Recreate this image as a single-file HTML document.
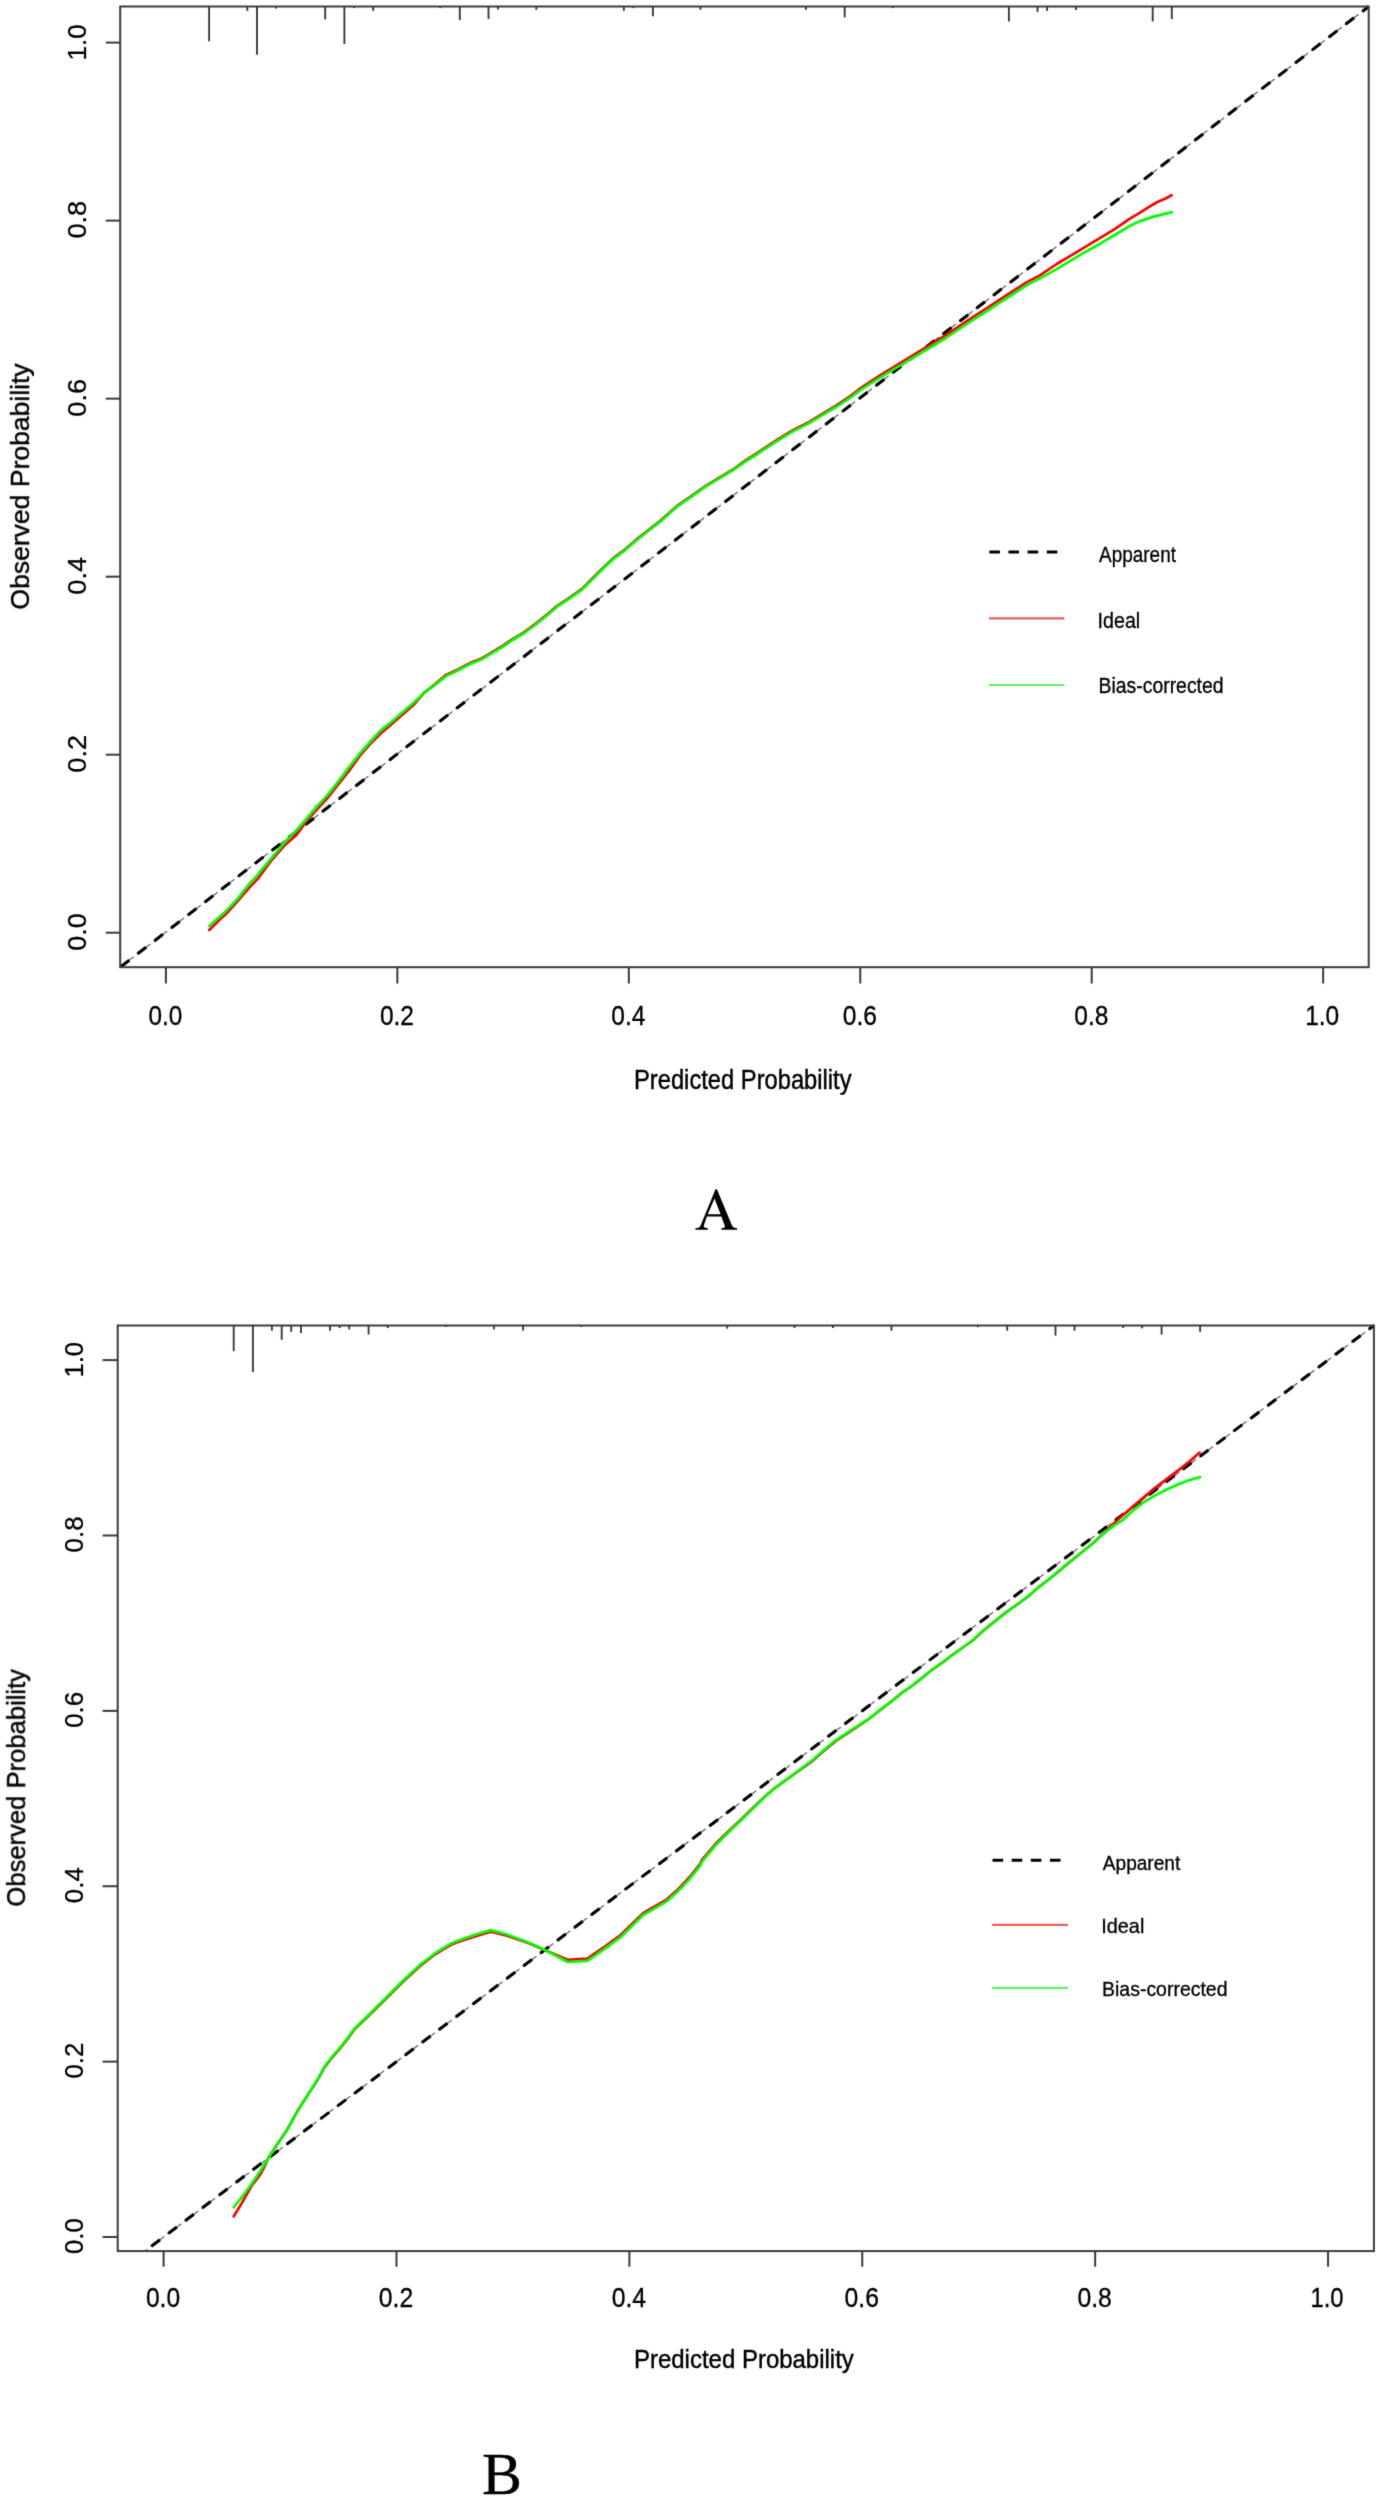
<!DOCTYPE html>
<html><head><meta charset="utf-8"><title>Calibration curves</title>
<style>html,body{margin:0;padding:0;background:#fff;}svg{display:block;}</style>
</head><body>
<svg width="1381" height="2500" viewBox="0 0 1381 2500">
<defs><filter id="soft" x="0" y="0" width="1381" height="2500" filterUnits="userSpaceOnUse" color-interpolation-filters="sRGB"><feConvolveMatrix order="3" kernelMatrix="0.01134 0.08382 0.01134 0.08382 0.61935 0.08382 0.01134 0.08382 0.01134" edgeMode="duplicate" preserveAlpha="false"/></filter></defs>
<rect x="0" y="0" width="1381" height="2500" fill="#fff"/>
<g filter="url(#soft)">
<line x1="209.1" y1="6.5" x2="209.1" y2="41.3" stroke="#3a3a3a" stroke-width="1.9"/>
<line x1="247.3" y1="6.5" x2="247.3" y2="10.9" stroke="#3a3a3a" stroke-width="1.9"/>
<line x1="257.0" y1="6.5" x2="257.0" y2="54.8" stroke="#3a3a3a" stroke-width="1.9"/>
<line x1="276.0" y1="6.5" x2="276.0" y2="8.5" stroke="#3a3a3a" stroke-width="1.9"/>
<line x1="325.2" y1="6.5" x2="325.2" y2="19.3" stroke="#3a3a3a" stroke-width="1.9"/>
<line x1="344.4" y1="6.5" x2="344.4" y2="44.0" stroke="#3a3a3a" stroke-width="1.9"/>
<line x1="354.1" y1="6.5" x2="354.1" y2="8.1" stroke="#3a3a3a" stroke-width="1.9"/>
<line x1="373.2" y1="6.5" x2="373.2" y2="10.9" stroke="#3a3a3a" stroke-width="1.9"/>
<line x1="440.4" y1="6.5" x2="440.4" y2="8.1" stroke="#3a3a3a" stroke-width="1.9"/>
<line x1="459.8" y1="6.5" x2="459.8" y2="20.1" stroke="#3a3a3a" stroke-width="1.9"/>
<line x1="488.5" y1="6.5" x2="488.5" y2="19.0" stroke="#3a3a3a" stroke-width="1.9"/>
<line x1="498.0" y1="6.5" x2="498.0" y2="9.6" stroke="#3a3a3a" stroke-width="1.9"/>
<line x1="536.3" y1="6.5" x2="536.3" y2="9.8" stroke="#3a3a3a" stroke-width="1.9"/>
<line x1="623.8" y1="6.5" x2="623.8" y2="10.9" stroke="#3a3a3a" stroke-width="1.9"/>
<line x1="633.4" y1="6.5" x2="633.4" y2="8.1" stroke="#3a3a3a" stroke-width="1.9"/>
<line x1="652.9" y1="6.5" x2="652.9" y2="16.3" stroke="#3a3a3a" stroke-width="1.9"/>
<line x1="700.4" y1="6.5" x2="700.4" y2="9.8" stroke="#3a3a3a" stroke-width="1.9"/>
<line x1="805.9" y1="6.5" x2="805.9" y2="9.8" stroke="#3a3a3a" stroke-width="1.9"/>
<line x1="844.7" y1="6.5" x2="844.7" y2="17.4" stroke="#3a3a3a" stroke-width="1.9"/>
<line x1="892.6" y1="6.5" x2="892.6" y2="8.1" stroke="#3a3a3a" stroke-width="1.9"/>
<line x1="1008.9" y1="6.5" x2="1008.9" y2="21.5" stroke="#3a3a3a" stroke-width="1.9"/>
<line x1="1037.5" y1="6.5" x2="1037.5" y2="11.9" stroke="#3a3a3a" stroke-width="1.9"/>
<line x1="1047.1" y1="6.5" x2="1047.1" y2="10.9" stroke="#3a3a3a" stroke-width="1.9"/>
<line x1="1075.9" y1="6.5" x2="1075.9" y2="10.0" stroke="#3a3a3a" stroke-width="1.9"/>
<line x1="1152.7" y1="6.5" x2="1152.7" y2="21.5" stroke="#3a3a3a" stroke-width="1.9"/>
<line x1="1171.8" y1="6.5" x2="1171.8" y2="19.0" stroke="#3a3a3a" stroke-width="1.9"/>
<line x1="120.20" y1="967.20" x2="1368.70" y2="6.50" stroke="#6a6a6a" stroke-width="1.3" stroke-dasharray="17.3 3.87" stroke-dashoffset="0.27"/>
<line x1="120.20" y1="967.20" x2="1368.70" y2="6.50" stroke="#000" stroke-width="3.1" stroke-dasharray="10.8 10.37" stroke-dashoffset="-0.73"/>
<path d="M209.3 930.0 L219.5 919.8 L226.7 913.3 L237.6 901.0 L248.4 888.7 L258.6 877.8 L270.2 861.9 L284.7 845.2 L296.4 835.0 L305.9 821.9 L316.7 809.6 L327.6 798.0 L338.4 784.2 L349.3 770.5 L360.2 755.3 L370.0 744.1 L380.9 733.3 L391.7 723.9 L402.6 714.4 L413.4 705.0 L424.3 692.5 L435.2 684.1 L446.0 674.9 L456.9 669.9 L470.0 663.1 L480.9 658.8 L491.7 652.3 L502.6 645.8 L513.4 638.6 L524.3 632.1 L535.2 624.1 L546.0 615.4 L556.9 606.0 L570.0 597.3 L581.7 589.1 L592.6 578.2 L603.4 567.4 L614.3 557.3 L625.2 549.3 L636.0 539.9 L646.9 531.2 L660.0 521.1 L676.7 506.2 L691.2 496.1 L705.7 485.9 L720.2 477.1 L734.7 468.3 L745.5 460.4 L755.0 454.5 L764.5 448.2 L779.0 438.7 L793.4 429.9 L807.9 422.6 L822.4 413.9 L836.9 405.1 L850.0 396.3 L861.7 387.4 L881.2 374.7 L902.9 361.5 L917.4 352.6 L931.9 343.7 L945.0 335.6 L965.3 322.1 L983.4 310.4 L997.9 300.9 L1012.4 291.5 L1026.9 282.1 L1039.5 275.6 L1056.7 264.0 L1071.2 255.3 L1085.7 246.6 L1100.2 237.9 L1114.7 229.2 L1129.1 219.1 L1140.0 212.7 L1148.7 207.2 L1157.4 202.0 L1166.1 198.2 L1171.6 195.2" fill="none" stroke="#ff0000" stroke-width="2.7" stroke-linejoin="round" stroke-linecap="round" />
<path d="M209.3 925.9 L219.5 916.9 L226.7 910.4 L237.6 898.8 L248.4 885.0 L257.1 875.6 L262.9 868.4 L273.8 855.3 L284.7 842.3 L295.0 832.0 L305.9 819.7 L316.7 806.7 L327.6 795.1 L338.4 781.3 L349.3 766.9 L360.2 753.1 L370.0 742.0 L380.9 730.4 L391.7 721.7 L402.6 712.3 L413.4 702.9 L424.3 692.7 L435.2 684.8 L446.0 676.1 L456.9 671.0 L470.0 664.1 L480.9 659.8 L491.7 653.3 L502.6 646.8 L513.4 639.5 L524.3 633.0 L535.2 625.0 L546.0 616.3 L556.9 606.9 L570.0 598.2 L581.7 590.0 L592.6 579.1 L603.4 568.2 L614.3 558.1 L625.2 550.1 L636.0 540.7 L646.9 532.0 L660.0 521.9 L676.7 506.9 L691.2 496.8 L705.7 486.6 L720.2 477.9 L734.7 469.2 L745.5 461.3 L755.0 455.5 L764.5 449.2 L779.0 439.8 L793.4 431.1 L807.9 423.9 L822.4 415.2 L836.9 406.5 L850.0 397.8 L861.7 389.2 L881.2 376.9 L902.9 363.9 L917.4 355.2 L931.9 346.5 L945.0 338.5 L965.3 325.0 L983.4 313.3 L997.9 303.9 L1012.4 294.5 L1026.9 285.1 L1039.5 278.6 L1056.7 269.1 L1071.2 260.4 L1085.7 251.7 L1100.2 243.7 L1114.7 235.0 L1129.1 226.3 L1140.0 221.1 L1154.5 216.4 L1171.9 212.1" fill="none" stroke="#00ff00" stroke-width="2.7" stroke-linejoin="round" stroke-linecap="round" />
<rect x="120.20" y="6.50" width="1248.50" height="960.70" fill="none" stroke="#3c3c3c" stroke-width="2"/>
<line x1="165.90" y1="967.20" x2="165.90" y2="983.50" stroke="#3a3a3a" stroke-width="2"/>
<line x1="397.35" y1="967.20" x2="397.35" y2="983.50" stroke="#3a3a3a" stroke-width="2"/>
<line x1="628.80" y1="967.20" x2="628.80" y2="983.50" stroke="#3a3a3a" stroke-width="2"/>
<line x1="860.25" y1="967.20" x2="860.25" y2="983.50" stroke="#3a3a3a" stroke-width="2"/>
<line x1="1091.70" y1="967.20" x2="1091.70" y2="983.50" stroke="#3a3a3a" stroke-width="2"/>
<line x1="1323.15" y1="967.20" x2="1323.15" y2="983.50" stroke="#3a3a3a" stroke-width="2"/>
<line x1="105.80" y1="932.70" x2="120.20" y2="932.70" stroke="#3a3a3a" stroke-width="2"/>
<line x1="105.80" y1="754.68" x2="120.20" y2="754.68" stroke="#3a3a3a" stroke-width="2"/>
<line x1="105.80" y1="576.66" x2="120.20" y2="576.66" stroke="#3a3a3a" stroke-width="2"/>
<line x1="105.80" y1="398.64" x2="120.20" y2="398.64" stroke="#3a3a3a" stroke-width="2"/>
<line x1="105.80" y1="220.62" x2="120.20" y2="220.62" stroke="#3a3a3a" stroke-width="2"/>
<line x1="105.80" y1="42.60" x2="120.20" y2="42.60" stroke="#3a3a3a" stroke-width="2"/>
<text transform="matrix(0.24351 0 0 0.28028 148.48 1024.92)" style="font-family:&quot;Liberation Sans&quot;,sans-serif" font-size="100" fill="#000" stroke="#000" stroke-width="1.15">0.0</text>
<text transform="matrix(0.24538 0 0 0.28028 379.92 1024.92)" style="font-family:&quot;Liberation Sans&quot;,sans-serif" font-size="100" fill="#000" stroke="#000" stroke-width="1.14">0.2</text>
<text transform="matrix(0.24538 0 0 0.28028 611.37 1024.92)" style="font-family:&quot;Liberation Sans&quot;,sans-serif" font-size="100" fill="#000" stroke="#000" stroke-width="1.14">0.4</text>
<text transform="matrix(0.24538 0 0 0.28028 842.82 1024.92)" style="font-family:&quot;Liberation Sans&quot;,sans-serif" font-size="100" fill="#000" stroke="#000" stroke-width="1.14">0.6</text>
<text transform="matrix(0.24538 0 0 0.28028 1074.27 1024.92)" style="font-family:&quot;Liberation Sans&quot;,sans-serif" font-size="100" fill="#000" stroke="#000" stroke-width="1.14">0.8</text>
<text transform="matrix(0.24488 0 0 0.28028 1305.14 1024.92)" style="font-family:&quot;Liberation Sans&quot;,sans-serif" font-size="100" fill="#000" stroke="#000" stroke-width="1.15">1.0</text>
<text transform="matrix(0 -0.27023 0.25634 0 86.04 950.68)" style="font-family:&quot;Liberation Sans&quot;,sans-serif" font-size="100" fill="#000" stroke="#000" stroke-width="1.14">0.0</text>
<text transform="matrix(0 -0.27231 0.25634 0 86.04 772.67)" style="font-family:&quot;Liberation Sans&quot;,sans-serif" font-size="100" fill="#000" stroke="#000" stroke-width="1.14">0.2</text>
<text transform="matrix(0 -0.27231 0.25634 0 86.04 594.65)" style="font-family:&quot;Liberation Sans&quot;,sans-serif" font-size="100" fill="#000" stroke="#000" stroke-width="1.14">0.4</text>
<text transform="matrix(0 -0.27231 0.25634 0 86.04 416.63)" style="font-family:&quot;Liberation Sans&quot;,sans-serif" font-size="100" fill="#000" stroke="#000" stroke-width="1.14">0.6</text>
<text transform="matrix(0 -0.27231 0.25634 0 86.04 238.61)" style="font-family:&quot;Liberation Sans&quot;,sans-serif" font-size="100" fill="#000" stroke="#000" stroke-width="1.14">0.8</text>
<text transform="matrix(0 -0.25984 0.25634 0 86.04 60.38)" style="font-family:&quot;Liberation Sans&quot;,sans-serif" font-size="100" fill="#000" stroke="#000" stroke-width="1.16">1.0</text>
<text transform="matrix(0.23740 0 0 0.26915 634.00 1088.85)" style="font-family:&quot;Liberation Sans&quot;,sans-serif" font-size="100" fill="#000" stroke="#000" stroke-width="1.58">Predicted Probability</text>
<text transform="matrix(0 -0.26555 0.24894 0 28.67 609.63)" style="font-family:&quot;Liberation Sans&quot;,sans-serif" font-size="100" fill="#000" stroke="#000" stroke-width="1.56">Observed Probability</text>
<line x1="989.3" y1="552.1" x2="1057.4" y2="552.1" stroke="#000" stroke-width="3" stroke-dasharray="10.6 8.55"/>
<line x1="989.0" y1="618.4" x2="1064.4" y2="618.4" stroke="#f05c5c" stroke-width="2.2"/>
<line x1="989.0" y1="685.0" x2="1064.4" y2="685.0" stroke="#62f062" stroke-width="2.2"/>
<text transform="matrix(0.18951 0 0 0.21889 1099.05 562.00)" style="font-family:&quot;Liberation Sans&quot;,sans-serif" font-size="100" fill="#000" stroke="#000" stroke-width="1.47">Apparent</text>
<text transform="matrix(0.19701 0 0 0.21622 1097.53 628.08)" style="font-family:&quot;Liberation Sans&quot;,sans-serif" font-size="100" fill="#000" stroke="#000" stroke-width="1.45">Ideal</text>
<text transform="matrix(0.19397 0 0 0.21892 1098.55 693.48)" style="font-family:&quot;Liberation Sans&quot;,sans-serif" font-size="100" fill="#000" stroke="#000" stroke-width="1.46">Bias-corrected</text>
<path fill="#000" fill-rule="evenodd" d="M695.4 1229.7 L707.8 1229.7 L707.8 1228.3 L704.6 1227.5 L703.6 1226.3 L706.9 1216.6 L721.4 1216.6 L725.0 1226.4 L724.0 1227.8 L721.4 1228.3 L721.4 1229.7 L737.1 1229.7 L737.1 1228.3 L734.4 1227.8 L732.3 1226.2 L716.9 1189.2 L715.5 1189.2 L700.4 1226.0 L698.6 1227.8 L695.4 1228.3 Z M707.8 1214.2 L720.6 1214.2 L714.5 1198.4 Z"/>
<line x1="233.7" y1="1325.5" x2="233.7" y2="1351.2" stroke="#3a3a3a" stroke-width="1.9"/>
<line x1="252.9" y1="1325.5" x2="252.9" y2="1372.0" stroke="#3a3a3a" stroke-width="1.9"/>
<line x1="271.9" y1="1325.5" x2="271.9" y2="1330.7" stroke="#3a3a3a" stroke-width="1.9"/>
<line x1="281.7" y1="1325.5" x2="281.7" y2="1339.8" stroke="#3a3a3a" stroke-width="1.9"/>
<line x1="291.2" y1="1325.5" x2="291.2" y2="1331.8" stroke="#3a3a3a" stroke-width="1.9"/>
<line x1="301.0" y1="1325.5" x2="301.0" y2="1332.9" stroke="#3a3a3a" stroke-width="1.9"/>
<line x1="330.0" y1="1325.5" x2="330.0" y2="1330.7" stroke="#3a3a3a" stroke-width="1.9"/>
<line x1="339.6" y1="1325.5" x2="339.6" y2="1328.0" stroke="#3a3a3a" stroke-width="1.9"/>
<line x1="349.2" y1="1325.5" x2="349.2" y2="1329.4" stroke="#3a3a3a" stroke-width="1.9"/>
<line x1="368.6" y1="1325.5" x2="368.6" y2="1334.5" stroke="#3a3a3a" stroke-width="1.9"/>
<line x1="387.8" y1="1325.5" x2="387.8" y2="1328.0" stroke="#3a3a3a" stroke-width="1.9"/>
<line x1="445.9" y1="1325.5" x2="445.9" y2="1326.9" stroke="#3a3a3a" stroke-width="1.9"/>
<line x1="493.9" y1="1325.5" x2="493.9" y2="1329.4" stroke="#3a3a3a" stroke-width="1.9"/>
<line x1="523.1" y1="1325.5" x2="523.1" y2="1330.5" stroke="#3a3a3a" stroke-width="1.9"/>
<line x1="581.0" y1="1325.5" x2="581.0" y2="1326.9" stroke="#3a3a3a" stroke-width="1.9"/>
<line x1="727.2" y1="1325.5" x2="727.2" y2="1328.6" stroke="#3a3a3a" stroke-width="1.9"/>
<line x1="794.5" y1="1325.5" x2="794.5" y2="1328.0" stroke="#3a3a3a" stroke-width="1.9"/>
<line x1="833.0" y1="1325.5" x2="833.0" y2="1328.0" stroke="#3a3a3a" stroke-width="1.9"/>
<line x1="891.4" y1="1325.5" x2="891.4" y2="1330.7" stroke="#3a3a3a" stroke-width="1.9"/>
<line x1="978.0" y1="1325.5" x2="978.0" y2="1327.2" stroke="#3a3a3a" stroke-width="1.9"/>
<line x1="1007.2" y1="1325.5" x2="1007.2" y2="1330.7" stroke="#3a3a3a" stroke-width="1.9"/>
<line x1="1055.5" y1="1325.5" x2="1055.5" y2="1335.6" stroke="#3a3a3a" stroke-width="1.9"/>
<line x1="1074.5" y1="1325.5" x2="1074.5" y2="1330.7" stroke="#3a3a3a" stroke-width="1.9"/>
<line x1="1123.1" y1="1325.5" x2="1123.1" y2="1328.0" stroke="#3a3a3a" stroke-width="1.9"/>
<line x1="1142.1" y1="1325.5" x2="1142.1" y2="1328.3" stroke="#3a3a3a" stroke-width="1.9"/>
<line x1="1161.6" y1="1325.5" x2="1161.6" y2="1334.5" stroke="#3a3a3a" stroke-width="1.9"/>
<line x1="1200.1" y1="1325.5" x2="1200.1" y2="1331.8" stroke="#3a3a3a" stroke-width="1.9"/>
<line x1="144.90" y1="2251.10" x2="1373.90" y2="1325.50" stroke="#6a6a6a" stroke-width="1.3" stroke-dasharray="17.3 3.87" stroke-dashoffset="14.07"/>
<line x1="144.90" y1="2251.10" x2="1373.90" y2="1325.50" stroke="#000" stroke-width="3.1" stroke-dasharray="10.8 10.37" stroke-dashoffset="13.07"/>
<path d="M233.7 2216.4 L242.4 2202.1 L251.1 2186.5 L259.8 2175.2 L263.2 2169.1 L268.4 2157.9 L277.1 2144.4 L287.2 2129.6 L298.1 2109.9 L309.0 2093.0 L317.7 2079.7 L324.9 2066.8 L332.1 2057.5 L341.5 2046.6 L348.8 2037.3 L354.5 2029.3 L367.9 2016.6 L385.3 1999.3 L402.7 1982.0 L420.1 1965.9 L435.1 1954.3 L451.4 1944.5 L460.0 1941.3 L475.1 1936.4 L490.7 1931.7 L506.3 1935.4 L529.5 1943.4 L546.9 1951.0 L567.8 1959.8 L578.2 1959.1 L587.4 1958.5 L604.8 1946.5 L620.0 1935.7 L634.8 1921.2 L643.2 1913.1 L652.1 1908.0 L666.3 1899.8 L677.9 1889.4 L689.5 1877.3 L700.0 1864.0 L702.0 1859.9 L715.9 1843.5 L729.8 1830.0 L741.4 1819.2 L749.0 1811.8 L757.7 1803.3 L766.3 1795.3 L775.0 1787.9 L783.7 1781.6 L792.4 1775.4 L800.0 1769.9 L812.7 1760.8 L823.2 1751.5 L834.8 1741.6 L846.3 1734.1 L857.9 1726.4 L869.5 1718.5 L880.0 1710.1 L893.3 1700.0 L903.2 1691.8 L911.9 1686.0 L920.6 1679.1 L932.1 1669.8 L943.7 1661.7 L952.4 1654.8 L960.0 1649.5 L973.3 1640.0 L983.2 1630.7 L994.8 1621.4 L1006.3 1612.1 L1017.9 1604.0 L1029.5 1595.3 L1040.0 1586.1 L1048.1 1580.0 L1057.4 1572.4 L1069.0 1562.6 L1080.6 1553.3 L1092.1 1544.0 L1106.6 1530.5 L1120.0 1517.6 L1131.6 1507.8 L1143.2 1497.9 L1154.8 1488.1 L1166.3 1479.4 L1177.9 1470.7 L1189.5 1461.4 L1199.7 1452.6" fill="none" stroke="#ff0000" stroke-width="2.7" stroke-linejoin="round" stroke-linecap="round" />
<path d="M233.7 2207.3 L242.4 2196.5 L251.1 2184.7 L259.8 2171.7 L268.4 2158.2 L277.1 2144.8 L287.2 2130.0 L298.1 2110.4 L309.0 2093.0 L317.7 2079.2 L324.9 2066.2 L332.1 2056.8 L341.5 2045.9 L348.8 2036.5 L354.5 2028.5 L367.9 2015.7 L385.3 1998.4 L402.7 1981.0 L420.1 1964.8 L435.1 1953.2 L451.4 1943.3 L460.0 1940.0 L475.1 1934.8 L490.7 1930.1 L506.3 1934.2 L529.5 1942.9 L546.9 1951.0 L567.8 1962.0 L578.2 1961.4 L587.4 1960.8 L604.8 1948.7 L620.0 1937.7 L634.8 1923.2 L643.2 1915.0 L652.1 1909.9 L666.3 1901.7 L677.9 1891.3 L689.5 1879.1 L700.0 1865.8 L702.0 1861.6 L715.9 1844.9 L729.8 1831.0 L741.4 1820.0 L749.0 1812.4 L757.7 1803.7 L766.3 1795.6 L775.0 1788.1 L783.7 1781.7 L792.4 1775.3 L800.0 1769.5 L812.7 1760.0 L823.2 1750.7 L834.8 1740.8 L846.3 1733.3 L857.9 1725.8 L869.5 1718.2 L880.0 1710.1 L893.3 1700.0 L903.2 1691.8 L911.9 1686.0 L920.6 1679.1 L932.1 1669.8 L943.7 1661.7 L952.4 1654.8 L960.0 1649.5 L973.3 1640.0 L983.2 1630.7 L994.8 1621.4 L1006.3 1612.1 L1017.9 1604.0 L1029.5 1595.3 L1040.0 1586.1 L1048.1 1580.0 L1057.4 1572.4 L1069.0 1562.6 L1080.6 1553.3 L1092.1 1544.0 L1103.7 1533.6 L1112.4 1526.7 L1123.5 1519.4 L1131.6 1511.8 L1143.2 1502.6 L1154.8 1495.6 L1166.3 1489.8 L1177.9 1484.6 L1189.5 1480.0 L1200.0 1477.1" fill="none" stroke="#00ff00" stroke-width="2.7" stroke-linejoin="round" stroke-linecap="round" />
<rect x="117.70" y="1325.50" width="1256.20" height="925.60" fill="none" stroke="#3c3c3c" stroke-width="2"/>
<line x1="163.60" y1="2251.10" x2="163.60" y2="2266.70" stroke="#3a3a3a" stroke-width="2"/>
<line x1="396.49" y1="2251.10" x2="396.49" y2="2266.70" stroke="#3a3a3a" stroke-width="2"/>
<line x1="629.38" y1="2251.10" x2="629.38" y2="2266.70" stroke="#3a3a3a" stroke-width="2"/>
<line x1="862.27" y1="2251.10" x2="862.27" y2="2266.70" stroke="#3a3a3a" stroke-width="2"/>
<line x1="1095.16" y1="2251.10" x2="1095.16" y2="2266.70" stroke="#3a3a3a" stroke-width="2"/>
<line x1="1328.05" y1="2251.10" x2="1328.05" y2="2266.70" stroke="#3a3a3a" stroke-width="2"/>
<line x1="102.60" y1="2237.00" x2="117.70" y2="2237.00" stroke="#3a3a3a" stroke-width="2"/>
<line x1="102.60" y1="2061.62" x2="117.70" y2="2061.62" stroke="#3a3a3a" stroke-width="2"/>
<line x1="102.60" y1="1886.24" x2="117.70" y2="1886.24" stroke="#3a3a3a" stroke-width="2"/>
<line x1="102.60" y1="1710.86" x2="117.70" y2="1710.86" stroke="#3a3a3a" stroke-width="2"/>
<line x1="102.60" y1="1535.48" x2="117.70" y2="1535.48" stroke="#3a3a3a" stroke-width="2"/>
<line x1="102.60" y1="1360.10" x2="117.70" y2="1360.10" stroke="#3a3a3a" stroke-width="2"/>
<text transform="matrix(0.24580 0 0 0.27465 145.92 2306.73)" style="font-family:&quot;Liberation Sans&quot;,sans-serif" font-size="100" fill="#000" stroke="#000" stroke-width="1.15">0.0</text>
<text transform="matrix(0.24769 0 0 0.27465 378.80 2306.73)" style="font-family:&quot;Liberation Sans&quot;,sans-serif" font-size="100" fill="#000" stroke="#000" stroke-width="1.15">0.2</text>
<text transform="matrix(0.24769 0 0 0.27465 611.69 2306.73)" style="font-family:&quot;Liberation Sans&quot;,sans-serif" font-size="100" fill="#000" stroke="#000" stroke-width="1.15">0.4</text>
<text transform="matrix(0.24769 0 0 0.27465 844.58 2306.73)" style="font-family:&quot;Liberation Sans&quot;,sans-serif" font-size="100" fill="#000" stroke="#000" stroke-width="1.15">0.6</text>
<text transform="matrix(0.24769 0 0 0.27465 1077.47 2306.73)" style="font-family:&quot;Liberation Sans&quot;,sans-serif" font-size="100" fill="#000" stroke="#000" stroke-width="1.15">0.8</text>
<text transform="matrix(0.23858 0 0 0.27465 1310.39 2306.73)" style="font-family:&quot;Liberation Sans&quot;,sans-serif" font-size="100" fill="#000" stroke="#000" stroke-width="1.17">1.0</text>
<text transform="matrix(0 -0.25649 0.25634 0 82.94 2253.93)" style="font-family:&quot;Liberation Sans&quot;,sans-serif" font-size="100" fill="#000" stroke="#000" stroke-width="1.17">0.0</text>
<text transform="matrix(0 -0.25846 0.25634 0 82.94 2078.55)" style="font-family:&quot;Liberation Sans&quot;,sans-serif" font-size="100" fill="#000" stroke="#000" stroke-width="1.17">0.2</text>
<text transform="matrix(0 -0.25846 0.25634 0 82.94 1903.17)" style="font-family:&quot;Liberation Sans&quot;,sans-serif" font-size="100" fill="#000" stroke="#000" stroke-width="1.17">0.4</text>
<text transform="matrix(0 -0.25846 0.25634 0 82.94 1727.79)" style="font-family:&quot;Liberation Sans&quot;,sans-serif" font-size="100" fill="#000" stroke="#000" stroke-width="1.17">0.6</text>
<text transform="matrix(0 -0.25846 0.25634 0 82.94 1552.41)" style="font-family:&quot;Liberation Sans&quot;,sans-serif" font-size="100" fill="#000" stroke="#000" stroke-width="1.17">0.8</text>
<text transform="matrix(0 -0.25512 0.25634 0 82.94 1377.44)" style="font-family:&quot;Liberation Sans&quot;,sans-serif" font-size="100" fill="#000" stroke="#000" stroke-width="1.17">1.0</text>
<text transform="matrix(0.23982 0 0 0.25851 633.98 2368.17)" style="font-family:&quot;Liberation Sans&quot;,sans-serif" font-size="100" fill="#000" stroke="#000" stroke-width="1.61">Predicted Probability</text>
<text transform="matrix(0 -0.25607 0.24894 0 25.27 1906.68)" style="font-family:&quot;Liberation Sans&quot;,sans-serif" font-size="100" fill="#000" stroke="#000" stroke-width="1.58">Observed Probability</text>
<line x1="992.5" y1="1860.2" x2="1060.6" y2="1860.2" stroke="#000" stroke-width="3" stroke-dasharray="10.6 8.55"/>
<line x1="992.2" y1="1924.9" x2="1067.9" y2="1924.9" stroke="#f05c5c" stroke-width="2.2"/>
<line x1="992.2" y1="1987.9" x2="1067.9" y2="1987.9" stroke="#62f062" stroke-width="2.2"/>
<text transform="matrix(0.19086 0 0 0.20889 1102.80 1869.71)" style="font-family:&quot;Liberation Sans&quot;,sans-serif" font-size="100" fill="#000" stroke="#000" stroke-width="1.50">Apparent</text>
<text transform="matrix(0.19900 0 0 0.20946 1101.21 1933.29)" style="font-family:&quot;Liberation Sans&quot;,sans-serif" font-size="100" fill="#000" stroke="#000" stroke-width="1.47">Ideal</text>
<text transform="matrix(0.19476 0 0 0.20811 1102.04 1995.99)" style="font-family:&quot;Liberation Sans&quot;,sans-serif" font-size="100" fill="#000" stroke="#000" stroke-width="1.49">Bias-corrected</text>
<text transform="matrix(0.59915 0 0 0.60000 481.95 2494.20)" style="font-family:&quot;Liberation Serif&quot;,serif" font-size="100" fill="#000" stroke="#000" stroke-width="0.50">B</text>
</g>
</svg>
</body></html>
